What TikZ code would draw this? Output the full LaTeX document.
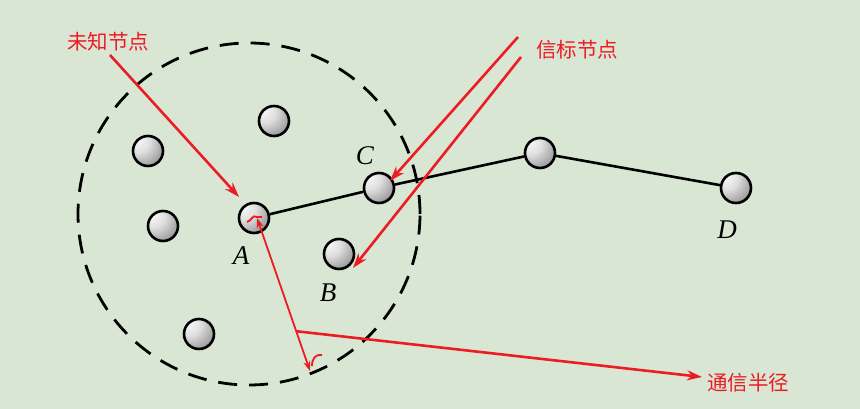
\documentclass[tikz,border=0pt]{standalone}
\usepackage{fontspec}
\setmainfont{Liberation Serif}
\newfontfamily\cjk{Noto Sans CJK SC}
\usetikzlibrary{arrows.meta,calc}
\definecolor{bg}{HTML}{D9E6D4}
\definecolor{myred}{HTML}{EC1C24}
\pgfdeclareradialshading{sball}{\pgfpoint{-22bp}{22bp}}{%
  color(0bp)=(white!95!bg);
  color(20bp)=(white!75!gray);
  color(48bp)=(gray);
  color(72bp)=(black!80);
  color(90bp)=(black)}
\begin{document}
\begin{tikzpicture}[x=1pt,y=-1pt,
  sensor/.style={circle,draw=black,line width=2.6pt,minimum size=30pt,inner sep=0pt,shading=sball},
  lbl/.style={font=\itshape\fontsize{27}{27}\selectfont,inner sep=0pt},
  cjklbl/.style={font=\cjk\fontsize{20.5}{20.5}\selectfont,text=myred,inner sep=0pt},
  link/.style={line width=2.6pt,black},
  redarrow/.style={myred,line width=2.6pt,-{Stealth[length=15pt,width=10pt]}},
  radarrow/.style={myred,line width=1.8pt,{Stealth[length=10pt,width=7pt]}-{Stealth[length=10pt,width=7pt]}}
]
\fill[bg] (0,0) rectangle (860,409);
\useasboundingbox (0,0) rectangle (860,409);
% dashed range circle
\node[circle,draw,dash pattern=on 19pt off 12pt,line width=2.8pt,minimum size=342pt,inner sep=0pt] (range) at (249,214) {};
% sensors
\node[sensor] (n1) at (274,121) {};
\node[sensor] (n2) at (148,151) {};
\node[sensor] (n3) at (163,226) {};
\node[sensor] (A) at (254,218) {};
\node[sensor] (C) at (379,188) {};
\node[sensor] (B) at (339,254) {};
\node[sensor] (n4) at (199,334) {};
\node[sensor] (E) at (540,153) {};
\node[sensor] (D) at (736,188) {};
% links
\draw[link] (A) -- (C);
\draw[link] (C) -- (E);
\draw[link] (E) -- (D);
% letter labels
\node[lbl] (lA) at (241,256) {A};
\node[lbl] (lB) at (328,293) {B};
\node[lbl] (lC) at (365,156) {C};
\node[lbl] (lD) at (727,230) {D};
% red labels
\node[cjklbl] (unk) at (108,42) {未知节点};
\node[cjklbl] (bea) at (577,50) {信标节点};
\node[cjklbl] (rad) at (748,383) {通信半径};
% red arrows
\coordinate (u0) at (110,55);
\coordinate (u1) at (239,197);
\draw[redarrow] (u0) -- (u1);
\coordinate (b0) at (518,37);
\coordinate (b1) at (390,181);
\draw[redarrow] (b0) -- (b1);
\coordinate (b2) at (521,57);
\coordinate (b3) at (353,268);
\draw[redarrow] (b2) -- (b3);
% radius
\coordinate (r0) at (257,218);
\coordinate (r1) at (310,371);
\draw[radarrow] (r0) -- (r1);
\coordinate (rm) at ($(r0)!0.74!(r1)$);
\coordinate (r2) at (702,377);
\draw[redarrow] (rm) -- (r2);
% small angle marks
\draw[myred,line width=1.8pt] (247,222) .. controls (252,221) and (252,214) .. (257,217) -- (262,217);
\draw[myred,line width=1.8pt] (312,366) .. controls (312,358) and (316,354) .. (322,355);
\end{tikzpicture}
\end{document}
